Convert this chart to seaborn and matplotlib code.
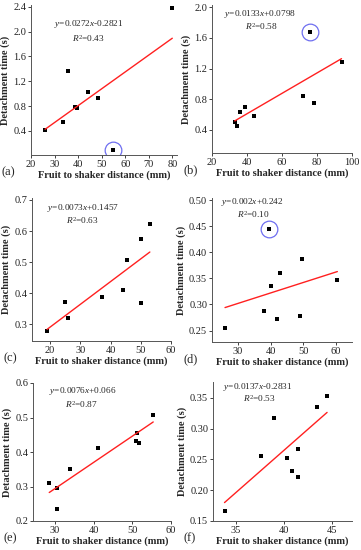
import matplotlib
matplotlib.use("Agg")
import matplotlib.pyplot as plt
import seaborn as sns

# Data
x_a = [26, 33.5, 35.5, 38.5, 39.5, 44, 48.5, 55, 80]
y_a = [0.41, 0.54, 1.37, 0.79, 0.77, 1.02, 0.93, 0.09, 2.38]
x_b = [33, 34, 36, 39, 44, 72, 76, 78, 94]
y_b = [0.50, 0.45, 0.63, 0.70, 0.58, 0.84, 1.68, 0.75, 1.29]
x_c = [19, 25, 26, 37, 44, 45.5, 50, 50.2, 53]
y_c = [0.280, 0.372, 0.322, 0.388, 0.410, 0.507, 0.575, 0.368, 0.622]
x_d = [26, 38, 39.5, 40, 42, 43, 49, 49.5, 60.5]
y_d = [0.254, 0.288, 0.445, 0.335, 0.273, 0.361, 0.277, 0.387, 0.347]
x_e = [28.5, 30.5, 30.5, 34, 41, 51, 51.3, 51.6, 55.4]
y_e = [0.310, 0.295, 0.234, 0.351, 0.413, 0.432, 0.456, 0.426, 0.508]
x_f = [33.8, 37.6, 39, 40.3, 40.8, 41.5, 41.5, 43.4, 44.5]
y_f = [0.166, 0.256, 0.318, 0.253, 0.232, 0.267, 0.221, 0.336, 0.353]

slopes = [0.0272, 0.0133, 0.0073, 0.002, 0.0076, 0.0137]
intercepts = [-0.2821, 0.0798, 0.1457, 0.242, 0.066, -0.2831]
r2_labels = ["0.43", "0.58", "0.63", "0.10", "0.87", "0.53"]
eq_labels = ["0.0272$\\mathit{x}$-0.2821", "0.0133$\\mathit{x}$+0.0798",
             "0.0073$\\mathit{x}$+0.1457", "0.002$\\mathit{x}$+0.242",
             "0.0076$\\mathit{x}$+0.066", "0.0137$\\mathit{x}$-0.2831"]
panel_names = ["(a)", "(b)", "(c)", "(d)", "(e)", "(f)"]
outlier_idx = [7, 6, None, 2, None, None]

xs = [x_a, x_b, x_c, x_d, x_e, x_f]
ys = [y_a, y_b, y_c, y_d, y_e, y_f]

# axes boxes in pixels: left, right, top, bottom
boxes = [(31, 177, 5, 155), (212, 352, 5, 153),
         (32, 171, 198, 341), (212, 352, 198, 342),
         (33, 171, 383, 521), (213, 352, 382, 521)]
xlims = [(20, 82), (20, 100), (14, 60), (22, 65), (24.3, 60), (32.6, 47.1)]
ylims = [(0.01, 2.43), (0.1, 2.03), (0.247, 0.706), (0.228, 0.504), (0.2, 0.6), (0.15, 0.376)]
xticks = [[20, 30, 40, 50, 60, 70, 80], [20, 40, 60, 80, 100], [20, 30, 40, 50, 60],
          [30, 40, 50, 60], [30, 40, 50, 60], [35, 40, 45]]
yticks = [[0.4, 0.8, 1.2, 1.6, 2.0, 2.4], [0.4, 0.8, 1.2, 1.6, 2.0], [0.3, 0.4, 0.5, 0.6, 0.7],
          [0.25, 0.30, 0.35, 0.40, 0.45, 0.50], [0.2, 0.3, 0.4, 0.5, 0.6],
          [0.15, 0.20, 0.25, 0.30, 0.35]]
yfmt = ["{:.1f}", "{:.1f}", "{:.1f}", "{:.2f}", "{:.1f}", "{:.2f}"]
# equation text positions (pixels, centre) and R2 positions
eq_pos = [(89, 24), (260, 14), (83, 208), (252, 202), (83, 391), (258, 387)]
r2_pos = [(88, 38), (261, 27), (82, 221), (253, 214), (81, 404), (259, 399)]

sns.set_style("ticks")
plt.rcParams['font.family'] = ['Liberation Serif', 'DejaVu Serif']
plt.rcParams['mathtext.fontset'] = 'custom'
plt.rcParams['mathtext.rm'] = 'Liberation Serif'
plt.rcParams['mathtext.it'] = 'Liberation Serif:italic'

W, H = 361, 550
fig = plt.figure(figsize=(W / 100, H / 100), dpi=100)

for i in range(6):
    l, r, t, b = boxes[i]
    ax = fig.add_axes([l / W, 1 - b / H, (r - l) / W, (b - t) / H])
    sns.scatterplot(x=xs[i], y=ys[i], ax=ax, marker='s', color='black',
                    s=11, edgecolor='black', linewidth=0)
    x0, x1 = min(xs[i]), max(xs[i])
    fit_x = [x0, x1]
    fit_y = [slopes[i] * v + intercepts[i] for v in fit_x]
    sns.lineplot(x=fit_x, y=fit_y, ax=ax, color='#ff2020', linewidth=1.0)
    k = outlier_idx[i]
    if k is not None:
        ax.plot(xs[i][k], ys[i][k], 'o', ms=12, mfc='none', mec='#6f6ff0', mew=0.9)
    ax.set_xlim(xlims[i])
    ax.set_ylim(ylims[i])
    ax.set_xticks(xticks[i])
    ax.set_yticks(yticks[i])
    ax.set_yticklabels([yfmt[i].format(v) for v in yticks[i]])
    ax.tick_params(labelsize=7.5, length=2, width=0.6, pad=1.5, colors='#222222')
    for side in ['top', 'right']:
        ax.spines[side].set_visible(False)
    for side in ['left', 'bottom']:
        ax.spines[side].set_linewidth(0.7)
        ax.spines[side].set_color('#555555')
    ax.set_xlabel("Fruit to shaker distance (mm)", fontsize=7.5, fontweight='bold', labelpad=1)
    ax.set_ylabel("Detachment time (s)", fontsize=7.5, fontweight='bold', labelpad=2)
    ex, ey = eq_pos[i]
    fig.text(ex / W, 1 - ey / H, "$\\mathit{y}$=" + eq_labels[i], fontsize=6.7,
             ha='center', va='center')
    rx, ry = r2_pos[i]
    fig.text(rx / W, 1 - ry / H, "$\\mathit{R}^2$=" + r2_labels[i], fontsize=6.7,
             ha='center', va='center')
    fig.text((l - 29) / W, 1 - (b + 17) / H, panel_names[i], fontsize=9,
             ha='left', va='center')

plt.savefig("out.png", dpi=100)
